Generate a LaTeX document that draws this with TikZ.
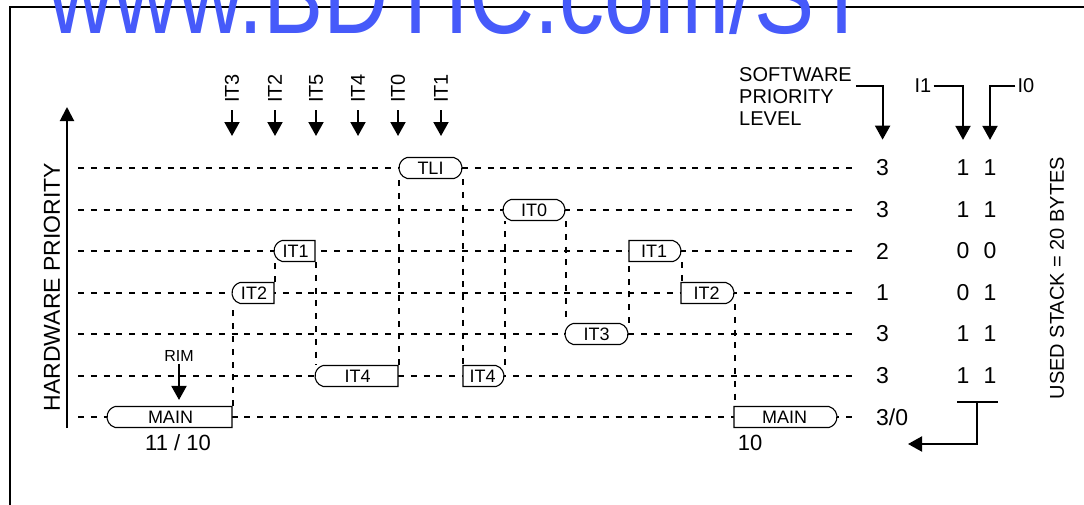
\documentclass[tikz,border=0pt]{standalone}
\usepackage{fontspec}
\setmainfont{Liberation Sans}
\usetikzlibrary{arrows.meta,shapes.misc}
\definecolor{markblue}{RGB}{70,90,250}

\tikzset{
  grid/.style={line width=2pt, dash pattern=on 6pt off 6.8pt},
  link/.style={grid},
  task/.style={draw, fill=white, line width=1.1pt, rounded rectangle,
    rounded rectangle arc length=150, minimum height=21pt, inner sep=0pt,
    font=\fontsize{18}{18}\selectfont},
  noleft/.style={rounded rectangle left arc=none},
  noright/.style={rounded rectangle right arc=none},
  arr/.style={line width=2pt, -{Triangle[length=14pt,width=15pt]}},
  num/.style={inner sep=0pt, font=\fontsize{23}{23}\selectfont},
  flag/.style={inner sep=2pt, font=\fontsize{20}{20}\selectfont},
  tick/.style={rotate=90, anchor=west, inner xsep=7pt, inner ysep=0pt,
    font=\fontsize{20}{20}\selectfont},
}

\begin{document}
\begin{tikzpicture}[x=1pt,y=-1pt]
\useasboundingbox (0,0) rectangle (1084,504);
\clip (0,0) rectangle (1084,504);

% frame
\draw[line width=1.6pt] (10,510) -- (10,7) -- (1090,7);

% priority rows
\draw[grid] (78,168) -- (857,168);
\draw[grid] (78,210) -- (857,210);
\draw[grid] (78,251) -- (857,251);
\draw[grid] (78,293) -- (857,293);
\draw[grid] (78,334) -- (857,334);
\draw[grid] (78,376) -- (857,376);
\draw[grid] (78,417) -- (857,417);

% axis
\draw[line width=2pt, -{Triangle[length=14pt,width=14pt]}] (67,428) -- (67,107);
\node[rotate=90, inner sep=0pt, font=\fontsize{23}{23}\selectfont] (hwprio) at (52,287) {HARDWARE PRIORITY};

% interrupt requests
\node[tick] (req3) at (232,110) {IT3};
\node[tick] (req2) at (275,110) {IT2};
\node[tick] (req5) at (316,110) {IT5};
\node[tick] (req4) at (358,110) {IT4};
\node[tick] (req0) at (398,110) {IT0};
\node[tick] (req1) at (441,110) {IT1};
\draw[arr] (req3.west) -- ++(0,26);
\draw[arr] (req2.west) -- ++(0,26);
\draw[arr] (req5.west) -- ++(0,26);
\draw[arr] (req4.west) -- ++(0,26);
\draw[arr] (req0.west) -- ++(0,26);
\draw[arr] (req1.west) -- ++(0,26);

% tasks
\node[task, noright, minimum width=125pt] (main1) at (170.5,417) {MAIN};
\node[task, noright, minimum width=42pt] (it2a) at (254,293) {IT2};
\node[task, noright, minimum width=41pt] (it1a) at (295.5,251) {IT1};
\node[task, noright, minimum width=83pt] (it4a) at (357.5,376) {IT4};
\node[task, minimum width=63pt] (tli) at (430.5,168) {TLI};
\node[task, noleft, minimum width=41pt] (it4b) at (482.5,376) {IT4};
\node[task, minimum width=62pt] (it0) at (534,210) {IT0};
\node[task, minimum width=63pt] (it3) at (596.5,334) {IT3};
\node[task, noleft, minimum width=52pt] (it1b) at (654,251) {IT1};
\node[task, noleft, minimum width=53pt] (it2b) at (706.5,293) {IT2};
\node[task, noleft, minimum width=103pt] (main2) at (784.5,417) {MAIN};

% task switches
\draw[link] (main1.east |- main1.north) -- (main1.east |- it2a.south);
\draw[link] (it2a.east |- it2a.north) -- (it2a.east |- it1a.south);
\draw[link] (it1a.east |- it1a.south) -- (it1a.east |- it4a.north);
\draw[link] (it4a.east |- it4a.north) -- (it4a.east |- tli.south);
\draw[link] (tli.east |- tli.south) -- (tli.east |- it4b.north);
\draw[link] (it4b.east |- it4b.north) -- (it4b.east |- it0.south);
\draw[link] (it0.east |- it0.south) -- (it0.east |- it3.north);
\draw[link] (it3.east |- it3.north) -- (it3.east |- it1b.south);
\draw[link] (it1b.east |- it1b.south) -- (it1b.east |- it2b.north);
\draw[link] (it2b.east |- it2b.south) -- (it2b.east |- main2.north);

\node[flag, font=\fontsize{16}{16}\selectfont] (rim) at (179,356) {RIM};
\draw[arr, shorten >=6pt] (rim.south) -- (rim.south |- main1.north);
\node[num, font=\fontsize{22}{22}\selectfont] (cyc1) at (178,443) {11 / 10};
\node[num, font=\fontsize{22}{22}\selectfont] (cyc2) at (750,443) {10};

% software priority and I1/I0 bits
\node[num, anchor=west] (lv1) at (876,168) {3};
\node[num, anchor=west] (lv2) at (876,210) {3};
\node[num, anchor=west] (lv3) at (876,251) {2};
\node[num, anchor=west] (lv4) at (876,293) {1};
\node[num, anchor=west] (lv5) at (876,334) {3};
\node[num, anchor=west] (lv6) at (876,376) {3};
\node[num, anchor=west] (lv7) at (876,417) {3/0};

\node[num] (ia1) at (963,168) {1};
\node[num] (ib1) at (990,168) {1};
\node[num] (ia2) at (963,210) {1};
\node[num] (ib2) at (990,210) {1};
\node[num] (ia3) at (963,251) {0};
\node[num] (ib3) at (990,251) {0};
\node[num] (ia4) at (963,293) {0};
\node[num] (ib4) at (990,293) {1};
\node[num] (ia5) at (963,334) {1};
\node[num] (ib5) at (990,334) {1};
\node[num] (ia6) at (963,376) {1};
\node[num] (ib6) at (990,376) {1};

\node[anchor=north west, align=left, inner sep=0pt, font=\fontsize{20}{22}\selectfont] (swprio) at (739,67) {SOFTWARE\\PRIORITY\\LEVEL};
\node[flag] (i1) at (923,86) {I1};
\node[flag] (i0) at (1026,86) {I0};
\draw[arr, shorten >=20pt] ([xshift=4pt]swprio.east |- i1) -| (lv1.north);
\draw[arr, shorten >=20pt] (i1.east) -| (ia1.north);
\draw[arr, shorten >=20pt] (i0.west) -| (ib1.north);

% stack
\coordinate (stk) at (977,402);
\coordinate (stkout) at (908,444);
\draw[line width=2pt] (957,402) -- (998,402);
\draw[arr] (stk) |- (stkout);
\node[rotate=90, inner sep=0pt, font=\fontsize{20}{20}\selectfont] (stack) at (1057,278) {USED STACK = 20 BYTES};

% watermark
\node[anchor=base west, inner sep=0pt, text=markblue, xscale=0.82, transform shape,
  font=\fontsize{110}{110}\selectfont] (mark) at (48,33) {www.BDTIC.com/ST};
\end{tikzpicture}
\end{document}
